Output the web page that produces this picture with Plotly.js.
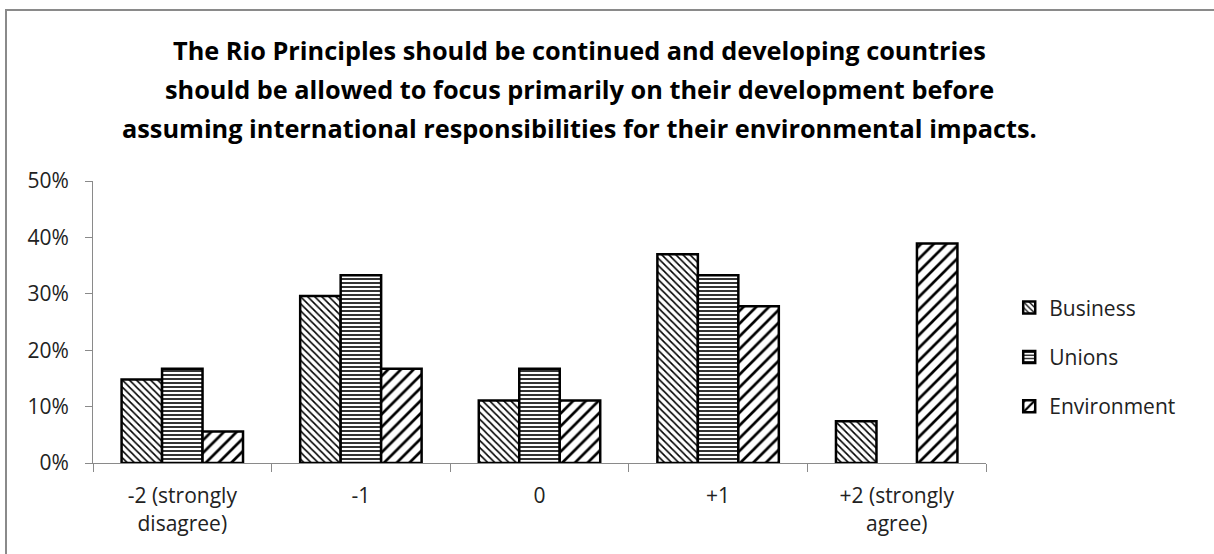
<!DOCTYPE html>
<html>
<head>
<meta charset="utf-8">
<script src="https://cdn.plot.ly/plotly-3.0.1.min.js"></script>
<style>
  html, body { margin: 0; padding: 0; background: #fff; overflow: hidden; }
  #wrap { position: relative; width: 1214px; height: 554px; overflow: hidden; }
  #chart { width: 1214px; height: 554px; }
  #frame { position: absolute; left: 5px; top: 9px; width: 1300px; height: 700px; border: 2px solid #8a8a8a; pointer-events: none; }
</style>
</head>
<body>
<div id="wrap">
  <div id="chart"></div>
  <div id="frame"></div>
</div>
<script>
const categories = ["-2 (strongly<br>disagree)", "-1", "0", "+1", "+2 (strongly<br>agree)"];
const business = [0.148, 0.296, 0.111, 0.370, 0.074];
const unions = [0.167, 0.333, 0.167, 0.333, 0];
const environment = [0.056, 0.167, 0.111, 0.278, 0.389];
const seriesNames = ["Business", "Unions", "Environment"];
const yTickVals = [0, 0.1, 0.2, 0.3, 0.4, 0.5];
const yTickText = ["0%", "10%", "20%", "30%", "40%", "50%"];
const titleLines = [
  "The Rio Principles should be continued and developing countries",
  "should be allowed to focus primarily on their development before",
  "assuming international responsibilities for their environmental impacts."
];

const fontFam = "'Open Sans', 'Liberation Sans', sans-serif";

function mk(name, vals, shape, size, solidity, grp) {
  return {
    type: "bar", name: name, x: categories, y: vals, legendgroup: grp,
    marker: {
      color: "#ffffff",
      line: { color: "#000000", width: vals.map(v => (v > 0 ? 2.5 : 0)) },
      pattern: { shape: shape, fgcolor: "#000000", bgcolor: "#ffffff", size: size, solidity: solidity, fillmode: "replace" }
    },
    hoverinfo: "skip"
  };
}

const data = [
  mk(seriesNames[0], business, "\\", 5, 0.32, "g0"),
  mk(seriesNames[1], unions, "-", 4, 0.4, "g1"),
  mk(seriesNames[2], environment, "/", 9, 0.3, "g2")
];

const titleY = [50, 89, 128];
const annotations = titleLines.map((t, i) => ({
  text: "<b>" + t + "</b>",
  xref: "paper", yref: "paper",
  x: (579 - 93) / 893, xanchor: "center",
  y: (463 - titleY[i]) / 282, yanchor: "middle",
  showarrow: false,
  font: { family: fontFam, size: 25.3, color: "#000000" }
}));

const layout = {
  width: 1214, height: 554,
  margin: { l: 93, r: 228, t: 181, b: 91 },
  paper_bgcolor: "#ffffff", plot_bgcolor: "#ffffff",
  font: { family: fontFam, color: "#222222", size: 22 },
  annotations: annotations,
  barmode: "group",
  bargap: 0.32, bargroupgap: 0,
  showlegend: true,
  legend: {
    x: 1.026, xanchor: "left", y: 0.376, yanchor: "middle",
    traceorder: "grouped", tracegroupgap: 19,
    font: { family: fontFam, size: 21, color: "#222222" },
    itemwidth: 30, bgcolor: "rgba(0,0,0,0)"
  },
  xaxis: {
    type: "category",
    showline: true, linecolor: "#8a8a8a", linewidth: 1,
    ticks: "outside", tickson: "boundaries", ticklen: 8, tickcolor: "#8a8a8a",
    showgrid: false, zeroline: false,
    ticklabelstandoff: 14,
    tickfont: { family: fontFam, size: 21, color: "#222222" },
    fixedrange: true
  },
  yaxis: {
    range: [0, 0.5],
    tickvals: yTickVals, ticktext: yTickText,
    showline: true, linecolor: "#8a8a8a", linewidth: 1,
    ticks: "outside", ticklen: 7, tickcolor: "#8a8a8a",
    showgrid: false, zeroline: false,
    ticklabelstandoff: 12,
    tickfont: { family: fontFam, size: 21, color: "#222222" },
    fixedrange: true
  }
};

Plotly.newPlot("chart", data, layout, { displayModeBar: false, staticPlot: true });
</script>
</body>
</html>
